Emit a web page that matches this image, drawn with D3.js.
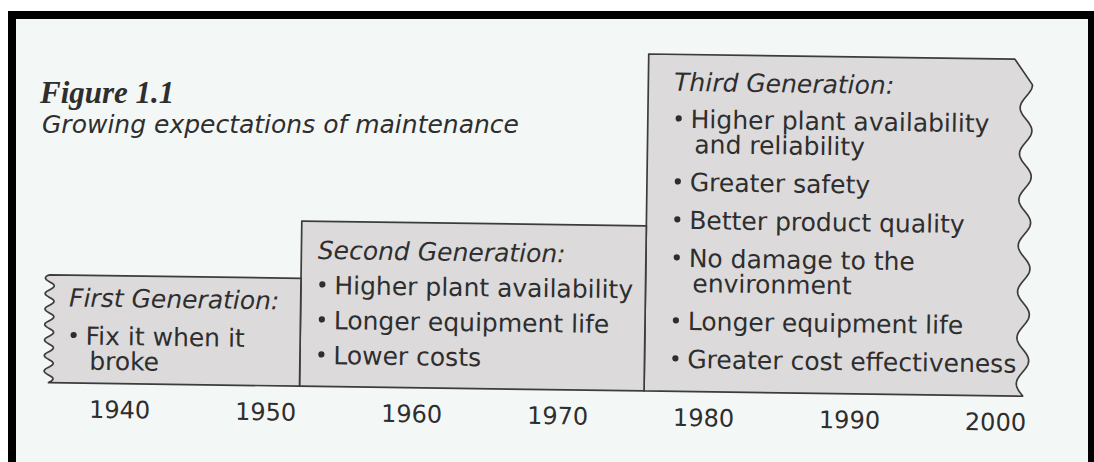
<!DOCTYPE html>
<html>
<head>
<meta charset="utf-8">
<script src="https://cdn.jsdelivr.net/npm/d3@7"></script>
<style>
  html, body { margin: 0; padding: 0; background: #fff; }
  svg { display: block; }
</style>
</head>
<body>
<div id="chart"></div>
<script>
// ---- data ----
const years = [1940, 1950, 1960, 1970, 1980, 1990, 2000];
const generations = ['First Generation:', 'Second Generation:', 'Third Generation:'];
const genStart = [1935.1, 1952.3, 1975.9];
const genEnd = [1952.3, 1975.9, 2001.8];
const genLevel = [32, 49, 100];
const genItems = [
  [['Fix it when it', 'broke']],
  [['Higher plant availability'], ['Longer equipment life'], ['Lower costs']],
  [['Higher plant availability', 'and reliability'], ['Greater safety'], ['Better product quality'],
   ['No damage to the', 'environment'], ['Longer equipment life'], ['Greater cost effectiveness']]
];
const figureLabel = 'Figure 1.1';
const figureTitle = 'Growing expectations of maintenance';

// ---- layout ----
const width = 1094;
const height = 462;
const textColor = '#2e2e2e';
const sans = '"DejaVu Sans", sans-serif';

const svg = d3.select('#chart')
  .append('svg')
  .attr('width', width)
  .attr('height', height);

// page + heavy black frame
svg.append('rect').attr('width', width).attr('height', height).attr('fill', '#fff');
svg.append('rect').attr('x', 8).attr('y', 11).attr('width', width).attr('height', height).attr('fill', '#000');
svg.append('rect').attr('x', 16).attr('y', 19).attr('width', 1072).attr('height', height).attr('fill', '#f3f7f6');

// titles
svg.append('text')
  .attr('x', 40).attr('y', 103)
  .attr('font-family', '"Liberation Serif", serif')
  .attr('font-weight', 'bold')
  .attr('font-style', 'italic')
  .attr('font-size', 31)
  .attr('fill', textColor)
  .text(figureLabel);

svg.append('text')
  .attr('x', 42).attr('y', 133)
  .attr('font-family', sans)
  .attr('font-style', 'italic')
  .attr('font-size', 25)
  .attr('fill', textColor)
  .text(figureTitle);

// the scanned diagram sits slightly rotated
const g = svg.append('g').attr('transform', 'rotate(0.8,540,240)');

const x = d3.scaleLinear().domain([1940, 2000]).range([122, 998]);
const y = d3.scaleLinear().domain([0, 100]).range([389.5, 52.5]);

// Boxes (torn edge on the far left and far right)
function boxPoints(i) {
  const x0 = x(genStart[i]);
  const x1 = x(genEnd[i]);
  const top = y(genLevel[i]);
  const bot = y(0);
  const pts = [[x0, top]];
  if (i === generations.length - 1) {
    pts.push([x1 - 12, top]);
    const start = top + 25.5;
    for (let yy = start; yy <= bot; yy += 1) {
      pts.push([x1 + 6 * Math.cos(2 * Math.PI * (yy - start) / 46), yy]);
    }
    pts.push([pts[pts.length - 1][0], bot]);
  } else {
    pts.push([x1, top]);
    pts.push([x1, bot]);
  }
  if (i === 0) {
    for (let yy = bot; yy >= top; yy -= 1) {
      pts.push([x0 + 4.5 * Math.sin(2 * Math.PI * (bot - yy) / 15.5), yy]);
    }
  } else {
    pts.push([x0, bot]);
  }
  return pts;
}

const line = d3.line();

[2, 1, 0].forEach(i => {
  g.append('path')
    .attr('d', line(boxPoints(i)) + 'Z')
    .attr('fill', '#dcdadb')
    .attr('stroke', '#3c3c3c')
    .attr('stroke-width', 1.7)
    .attr('stroke-linejoin', 'round');
});

// Box text
const headX = [70, 318, 672];
const headY = [313, 262, 89];
const headGap = [38, 35, 37];
const itemGap = [38, 35, 38];
const wrapGap = 25;

generations.forEach((name, i) => {
  g.append('text')
    .attr('x', headX[i]).attr('y', headY[i])
    .attr('font-family', sans)
    .attr('font-style', 'italic')
    .attr('font-size', 25)
    .attr('fill', textColor)
    .text(name);

  let cy = headY[i] + headGap[i];
  genItems[i].forEach(item => {
    g.append('circle')
      .attr('cx', headX[i] + 5)
      .attr('cy', cy - 9.5)
      .attr('r', 3.1)
      .attr('fill', textColor);
    item.forEach((ln, k) => {
      g.append('text')
        .attr('x', headX[i] + (k === 0 ? 17 : 21))
        .attr('y', cy)
        .attr('font-family', sans)
        .attr('font-size', 25)
        .attr('fill', textColor)
        .text(ln);
      if (k < item.length - 1) cy += wrapGap;
    });
    cy += itemGap[i];
  });
});

// Year axis labels
g.selectAll('.year')
  .data(years)
  .enter()
  .append('text')
  .attr('class', 'year')
  .attr('x', d => x(d))
  .attr('y', 424)
  .attr('text-anchor', 'middle')
  .attr('font-family', sans)
  .attr('font-size', 24)
  .attr('fill', textColor)
  .text(d => d);
</script>
</body>
</html>
